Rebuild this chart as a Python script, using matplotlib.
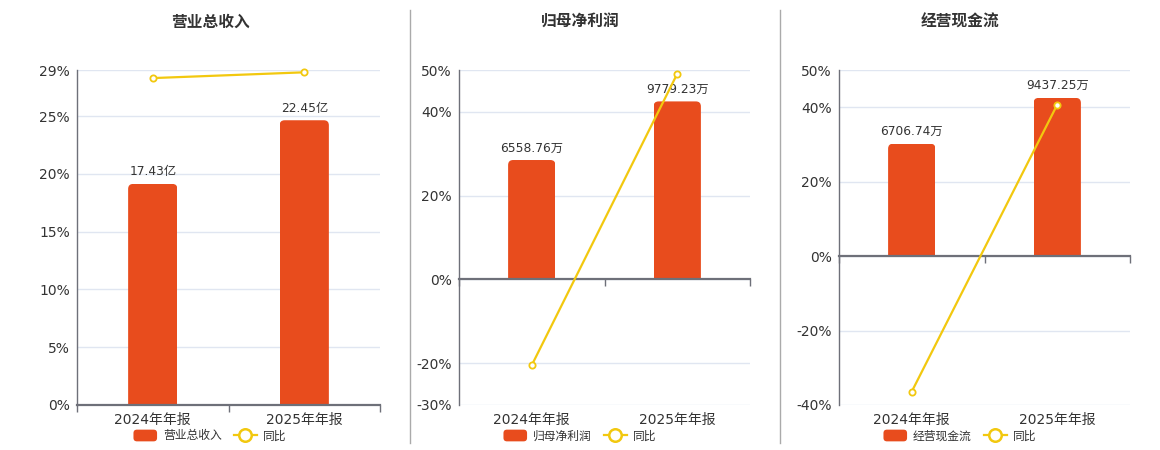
import matplotlib
matplotlib.use("Agg")
import matplotlib.pyplot as plt
from matplotlib.patches import FancyBboxPatch, Patch
from matplotlib.lines import Line2D
from matplotlib.legend_handler import HandlerPatch

plt.rcParams['font.family'] = ['DejaVu Sans', 'Noto Sans CJK SC']

# ---------------- data ----------------
categories = ["2024年年报", "2025年年报"]

titles = ["营业总收入", "归母净利润", "经营现金流"]
bar_names = ["营业总收入", "归母净利润", "经营现金流"]

revenue = [17.43, 22.45]          # 亿
net_profit = [6558.76, 9779.23]   # 万
op_cash = [6706.74, 9437.25]      # 万
bar_units = ["亿", "万", "万"]

revenue_yoy = [28.3, 28.8]        # %
net_profit_yoy = [-20.5, 49.1]
op_cash_yoy = [-36.4, 40.7]

yticks_list = [[0, 5, 10, 15, 20, 25, 29],
               [-30, -20, 0, 20, 40, 50],
               [-40, -20, 0, 20, 40, 50]]

bar_series = [revenue, net_profit, op_cash]
yoy_series = [revenue_yoy, net_profit_yoy, op_cash_yoy]

# ---------------- style ----------------
BAR_C = "#E84C1D"
LINE_C = "#F2C80F"
GRID_C = "#E0E6F1"
AXIS_C = "#6E7079"
TEXT_C = "#333333"

W, H = 1160, 450
fig = plt.figure(figsize=(W / 100, H / 100), dpi=100)

# panel rects in pixels: left, right, top, bottom
rects = [(77, 380, 70, 405), (459, 750, 70, 405), (839, 1130, 70, 405)]
centers = [210, 580, 960]


def frac(l, r, t, b):
    return [l / W, 1 - b / H, (r - l) / W, (b - t) / H]


def rounded_patch(legend, orig_handle, xdescent, ydescent, width, height, fontsize):
    return FancyBboxPatch((-xdescent, -ydescent), width, height,
                          boxstyle="round,pad=0,rounding_size=2.5")


for i in range(3):
    l, r, t, b = rects[i]
    pos = frac(l, r, t, b)
    yt = yticks_list[i]
    lo, hi = yt[0], yt[-1]

    # base axes: grid, y tick labels, category labels
    ax = fig.add_axes(pos)
    ax.set_xlim(-0.5, 1.5)
    ax.set_ylim(lo, hi)
    ax.set_yticks(yt)
    ax.set_yticklabels([f"{v}%" for v in yt])
    ax.yaxis.grid(True, color=GRID_C, lw=1)
    ax.set_axisbelow(True)
    ax.tick_params(axis='y', length=0, pad=5, labelsize=10, labelcolor=TEXT_C)
    ax.set_xticks(range(len(categories)))
    ax.set_xticklabels(categories)
    ax.tick_params(axis='x', length=0, pad=6, labelsize=10, labelcolor=TEXT_C)
    for s in ['top', 'right', 'bottom']:
        ax.spines[s].set_visible(False)
    ax.spines['left'].set_color(AXIS_C)
    ax.spines['left'].set_linewidth(1)

    # bar axes
    axb = fig.add_axes(pos)
    axb.patch.set_visible(False)
    vals = bar_series[i]
    M = max(vals) / 0.85
    axb.set_ylim(lo / hi * M, M)
    axb.set_xlim(-0.5, 1.5)
    axb.axis('off')
    bars = axb.bar(range(len(categories)), vals, width=0.325, color=BAR_C)
    # rounded top corners
    wpx = r - l
    hpx = b - t
    xupp = 2.0 / wpx
    yupp = (M - lo / hi * M) / hpx
    rad = 5
    for rect in bars:
        x0 = rect.get_x()
        w = rect.get_width()
        h = rect.get_height()
        fb = FancyBboxPatch((x0, -rad * 2 * yupp), w, h + rad * 2 * yupp,
                            boxstyle=f"round,pad=0,rounding_size={rad * xupp}",
                            mutation_aspect=yupp / xupp,
                            facecolor=BAR_C, edgecolor='none', zorder=2)
        axb.add_patch(fb)
        fb.set_clip_path(rect)
        rect.set_visible(False)
    for j, rect in enumerate(bars):
        axb.annotate(f"{vals[j]:.2f}{bar_units[i]}",
                     (rect.get_x() + rect.get_width() / 2, rect.get_height()),
                     xytext=(0, 4), textcoords='offset points',
                     ha='center', va='bottom', fontsize=8.8, color=TEXT_C)

    # line axes
    axl = fig.add_axes(pos)
    axl.patch.set_visible(False)
    axl.set_xlim(-0.5, 1.5)
    axl.set_ylim(lo, hi)
    for s in ['top', 'right', 'left']:
        axl.spines[s].set_visible(False)
    axl.spines['bottom'].set_position(('data', 0))
    axl.spines['bottom'].set_color(AXIS_C)
    axl.spines['bottom'].set_linewidth(1.6)
    axl.set_yticks([])
    axl.set_xticks([])
    axl.set_xticks([-0.5, 0.5, 1.5], minor=True)
    axl.tick_params(axis='x', which='minor', length=5, width=1, color=AXIS_C,
                    labelbottom=False)
    axl.plot(range(len(categories)), yoy_series[i], color=LINE_C, lw=1.6,
             marker='o', markersize=4.5, markerfacecolor='white',
             markeredgecolor=LINE_C, markeredgewidth=1.3, clip_on=False, zorder=3)

    # title
    fig.text(centers[i] / W, 1 - 22 / H, titles[i], ha='center', va='center',
             fontsize=11.3, fontweight='bold', color=TEXT_C)

    # legend
    handles = [Patch(facecolor=BAR_C, edgecolor='none'),
               Line2D([0], [0], color=LINE_C, lw=1.6, marker='o', markersize=9,
                      markerfacecolor='white', markeredgecolor=LINE_C,
                      markeredgewidth=1.8)]
    fig.legend(handles, [bar_names[i], "同比"], loc='center',
               bbox_to_anchor=(centers[i] / W, 1 - 436 / H),
               bbox_transform=fig.transFigure, ncol=2, frameon=False,
               fontsize=8.5, labelcolor=TEXT_C, handlelength=2.0,
               handleheight=1.15, handletextpad=0.5, columnspacing=1.0,
               borderaxespad=0, borderpad=0,
               handler_map={Patch: HandlerPatch(patch_func=rounded_patch)})

# separators
for xs in [410, 780]:
    fig.add_artist(Line2D([xs / W, xs / W], [1 - 443 / H, 1 - 10 / H],
                          color="#AAAAAA", lw=1, transform=fig.transFigure))

fig.savefig("out.png", dpi=100, facecolor='white')
